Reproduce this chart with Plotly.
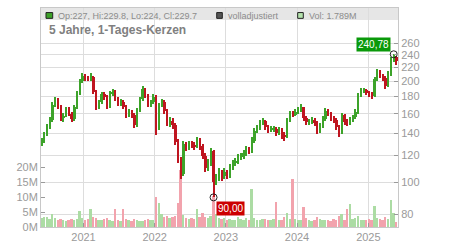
import math
import pandas as pd
import plotly.graph_objects as go

# ---------------- data ----------------
dates = pd.date_range("2020-05-31", periods=131, freq="14D")

closes = [132, 139, 146, 153, 170, 176, 168, 155, 158, 165,
          160, 154, 167, 184, 200, 207, 205, 204, 206, 186,
          168, 173, 183, 180, 168, 184, 186, 178, 172, 174,
          168, 158, 162, 159, 148, 164, 177, 189, 181, 170,
          173, 180, 145, 170, 174, 163, 150, 152, 148, 132,
          117, 106, 130, 127, 130, 129, 128, 133, 128, 120,
          110, 114, 124, 100, 103, 107, 104, 107, 105, 111,
          114, 115, 118, 119, 122, 125, 124, 133, 142, 145,
          150, 152, 146, 143, 144, 144, 140, 143, 138, 137,
          153, 160, 159, 162, 164, 167, 155, 151, 151, 153,
          150, 142, 147, 154, 163, 160, 155, 153, 146, 140,
          159, 151, 150, 153, 156, 162, 181, 188, 188, 185,
          183, 181, 203, 214, 207, 205, 194, 210, 233, 236,
          229.7]

highs = [135, 141, 149, 156, 174, 179, 178, 170, 161, 168,
         167, 162, 170, 187, 203, 211, 210, 208, 212, 207,
         188, 176, 186, 186, 182, 187, 190, 188, 180, 177,
         176, 170, 165, 164, 161, 166, 180, 193, 191, 183,
         176, 183, 182, 172, 177, 176, 165, 156, 155, 150,
         134, 119, 133, 132, 133, 133, 132, 136, 135, 130,
         122, 117, 126, 125, 106, 110, 109, 110, 109, 113,
         116, 118, 121, 122, 125, 128, 127, 136, 145, 148,
         153, 155, 153, 148, 147, 147, 146, 146, 145, 141,
         155, 163, 163, 165, 167, 171, 168, 157, 154, 156,
         155, 152, 150, 157, 166, 165, 162, 157, 155, 148,
         161, 160, 154, 156, 159, 165, 184, 191, 191, 190,
         187, 186, 206, 218, 216, 210, 207, 214, 236, 240.78,
         238]

lows = [128, 131, 137, 144, 151, 167, 165, 152, 151, 156,
        157, 151, 152, 165, 182, 197, 201, 200, 201, 183,
        164, 165, 171, 176, 165, 166, 181, 175, 169, 169,
        165, 155, 156, 155, 145, 146, 162, 175, 178, 167,
        167, 171, 138, 143, 167, 160, 147, 146, 144, 129,
        114, 102, 104, 124, 125, 126, 125, 126, 125, 117,
        107, 108, 112, 90, 98, 101, 101, 102, 102, 103,
        109, 112, 113, 116, 117, 120, 121, 122, 131, 140,
        143, 148, 143, 140, 141, 141, 137, 138, 134, 133,
        135, 151, 156, 157, 160, 162, 152, 148, 148, 149,
        147, 139, 140, 145, 152, 157, 152, 150, 143, 136,
        139, 148, 147, 148, 151, 154, 160, 179, 185, 182,
        179, 177, 179, 201, 204, 201, 189, 192, 208, 228,
        224]

first_open = 130

volumes_m = [3.0, 3.5, 3.2, 2.8, 4.5, 3.0, 2.5, 2.6, 2.2, 2.0,
             2.4, 2.8, 2.5, 2.6, 5.2, 3.0, 2.5, 2.8, 5.9, 3.2,
             2.9, 2.4, 2.2, 2.6, 2.9, 2.3, 2.0, 5.9, 2.4, 2.1,
             6.1, 2.7, 2.3, 2.0, 2.6, 2.2, 1.9, 2.1, 2.4, 2.6,
             2.3, 2.5, 10.0, 7.9, 4.5, 3.2, 3.6, 2.9, 3.3, 3.8,
             8.0, 19.0, 4.0, 3.1, 2.8, 3.0, 2.7, 6.0, 3.2, 4.8,
             3.4, 3.0, 3.6, 10.5, 4.2, 3.0, 2.6, 3.1, 2.4, 2.8,
             2.5, 2.2, 3.4, 2.6, 2.3, 2.9, 2.4, 12.7, 3.0, 2.5,
             2.3, 2.8, 2.6, 2.2, 2.4, 2.7, 8.3, 2.5, 2.3, 3.2,
             4.6, 2.8, 16.0, 2.6, 2.2, 2.4, 6.7, 2.9, 2.5, 2.1,
             2.3, 3.5, 2.6, 2.4, 2.2, 2.5, 2.1, 2.8, 2.3, 3.8,
             4.2, 2.4, 5.9, 7.8, 2.6, 2.9, 3.7, 2.5, 2.2, 2.3,
             2.6, 2.4, 7.0, 3.0, 2.7, 2.5, 3.5, 2.8, 8.9, 4.6,
             1.789]

price_ticks = [80, 100, 120, 140, 160, 180, 200, 220, 240, 260]
vol_ticks_m = [0, 5, 10, 15, 20]
year_ticks = ["2021-01-01", "2022-01-01", "2023-01-01", "2024-01-01", "2025-01-01"]
year_labels = ["2021", "2022", "2023", "2024", "2025"]

title_text = "5 Jahre, 1-Tages-Kerzen"
header_ohlc = "Op:227, Hi:229.8, Lo:224, Cl:229.7"
header_adj = "volladjustiert"
header_vol = "Vol: 1.789M"

# ---------------- styling ----------------
UP = "#3da32a"
DOWN = "#bf1520"
VOL_UP = "#acdca4"
VOL_DOWN = "#f2a3ad"
GRID = "#dddddd"
TICK = "#9a9a9a"
FONT = "Liberation Sans, Arial, sans-serif"
DAY_MS = 86400000
PERIOD_MS = 14 * DAY_MS

opens = [first_open] + closes[:-1]
is_up = [c >= o for o, c in zip(opens, closes)]
vol_colors = [VOL_UP if u else VOL_DOWN for u in is_up]
candle_colors = [UP if u else DOWN for u in is_up]

fig = go.Figure()

# volume (left axis)
fig.add_trace(go.Bar(
    x=dates, y=[v * 1e6 for v in volumes_m], yaxis="y",
    marker=dict(color=vol_colors, line=dict(width=0)),
    width=PERIOD_MS * 0.7, hoverinfo="skip", showlegend=False))

# candle wicks (thin bars low -> high)
fig.add_trace(go.Bar(
    x=dates, base=lows, y=[h - l for h, l in zip(highs, lows)], yaxis="y2",
    marker=dict(color=candle_colors, line=dict(width=0)),
    width=PERIOD_MS * 0.4, hoverinfo="skip", showlegend=False))

# candle bodies (open/close)
body_lo = [min(o, c) for o, c in zip(opens, closes)]
body_hi = [max(o, c) for o, c in zip(opens, closes)]
fig.add_trace(go.Bar(
    x=dates, base=body_lo, y=[max(h - l, 0.6) for h, l in zip(body_hi, body_lo)], yaxis="y2",
    marker=dict(color=candle_colors, line=dict(width=0)),
    width=PERIOD_MS * 0.85, hoverinfo="skip", showlegend=False))

i_hi = max(range(len(highs)), key=lambda i: highs[i])
i_lo = min(range(len(lows)), key=lambda i: lows[i])

fig.add_trace(go.Scatter(
    x=[dates[i_hi], dates[i_lo]], y=[highs[i_hi], lows[i_lo]], yaxis="y2",
    mode="markers",
    marker=dict(symbol="circle-open", size=7, color="#222", line=dict(width=1)),
    hoverinfo="skip", showlegend=False))

def fmt(v):
    return f"{v:.2f}".replace(".", ",")

annotations = [
    dict(x=dates[i_hi], y=math.log10(highs[i_hi]), xref="x", yref="y2",
         text=fmt(highs[i_hi]), showarrow=False, xanchor="right", yanchor="bottom",
         xshift=-3, yshift=2, bgcolor="#0a990a", borderpad=1,
         font=dict(size=10, color="white", family=FONT)),
    dict(x=dates[i_lo], y=math.log10(lows[i_lo]), xref="x", yref="y2",
         text=fmt(lows[i_lo]), showarrow=False, xanchor="left", yanchor="top",
         xshift=2, yshift=-4, bgcolor="#cc0000", borderpad=1,
         font=dict(size=10, color="white", family=FONT)),
    dict(x=0.042, y=0.9655, xref="paper", yref="paper", text=header_ohlc,
         showarrow=False, xanchor="left", yanchor="middle",
         font=dict(size=9, color="#8c8c8c", family=FONT)),
    dict(x=0.5174, y=0.9655, xref="paper", yref="paper", text=header_adj,
         showarrow=False, xanchor="left", yanchor="middle",
         font=dict(size=9, color="#8c8c8c", family=FONT)),
    dict(x=0.7442, y=0.9655, xref="paper", yref="paper", text=header_vol,
         showarrow=False, xanchor="left", yanchor="middle",
         font=dict(size=9, color="#8c8c8c", family=FONT)),
    dict(x=0.016, y=0.898, xref="paper", yref="paper", text="<b>" + title_text + "</b>",
         showarrow=False, xanchor="left", yanchor="middle",
         font=dict(size=12, color="#808080", family=FONT)),
]

shapes = [
    dict(type="rect", xref="paper", yref="paper", x0=0, x1=1, y0=0.9456, y1=1,
         fillcolor="#e6e6e6", line=dict(width=0), layer="below"),
    dict(type="rect", xref="paper", yref="paper", x0=0.014, x1=0.0328, y0=0.9527, y1=0.9792,
         fillcolor="#3ca028", line=dict(color="#222", width=1), layer="above"),
    dict(type="rect", xref="paper", yref="paper", x0=0.4922, x1=0.5079, y0=0.9527, y1=0.9792,
         fillcolor="#555555", line=dict(color="#222", width=1), layer="above"),
    dict(type="rect", xref="paper", yref="paper", x0=0.7190, x1=0.7347, y0=0.9527, y1=0.9792,
         fillcolor="#b4e2ac", line=dict(color="#222", width=1), layer="above"),
]

fig.update_layout(
    width=450, height=250,
    margin=dict(l=41, r=52, t=7, b=17, pad=0),
    paper_bgcolor="white", plot_bgcolor="white",
    font=dict(family=FONT, size=11, color=TICK),
    barmode="overlay", bargap=0,
    xaxis=dict(type="date", range=["2020-05-28", "2025-06-02"],
               tickvals=year_ticks, ticktext=year_labels,
               showgrid=True, gridcolor=GRID, gridwidth=1,
               ticks="inside", ticklen=4, tickcolor=TICK,
               tickfont=dict(size=11, color=TICK),
               showline=True, linecolor="#c8c8c8", linewidth=1, mirror=True,
               zeroline=False),
    yaxis=dict(side="left", range=[0, 73.4e6],
               tickvals=[v * 1e6 for v in vol_ticks_m],
               ticktext=[f"{v}M" for v in vol_ticks_m],
               showgrid=False, zeroline=False,
               ticks="inside", ticklen=4, tickcolor=TICK,
               tickfont=dict(size=11, color=TICK),
               showline=True, linecolor="#c8c8c8", linewidth=1),
    yaxis2=dict(overlaying="y", side="right", type="log",
                range=[math.log10(73.4), math.log10(331)],
                tickvals=price_ticks, ticktext=[str(v) for v in price_ticks],
                showgrid=True, gridcolor=GRID, gridwidth=1, zeroline=False,
                ticks="inside", ticklen=4, tickcolor=TICK,
                tickfont=dict(size=11, color=TICK),
                showline=True, linecolor="#c8c8c8", linewidth=1),
    annotations=annotations,
    shapes=shapes,
)

fig.write_html("out.html")
